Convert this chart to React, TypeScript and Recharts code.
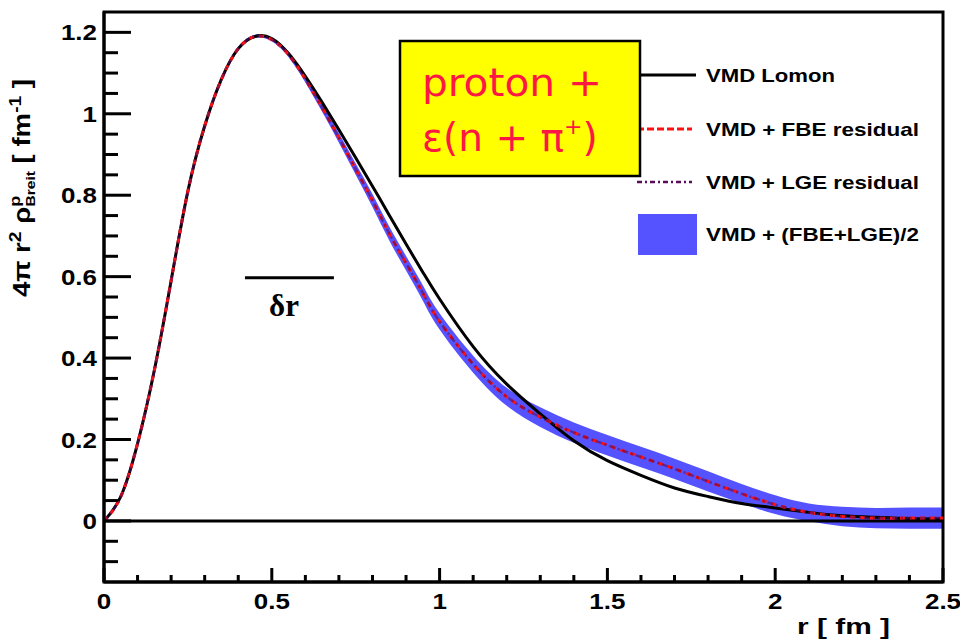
import React from 'react';
import { ComposedChart, Line, Area, XAxis, YAxis, ReferenceLine, ReferenceArea } from 'recharts';

// r in fm
const rValues = [
  0, 0.05, 0.1, 0.15, 0.2, 0.25, 0.3, 0.35, 0.4, 0.45, 0.5, 0.55, 0.6, 0.65, 0.7, 0.75, 0.8, 0.85,
  0.9, 0.95, 1.0, 1.1, 1.2, 1.3, 1.4, 1.5, 1.6, 1.7, 1.8, 1.9, 2.0, 2.1, 2.2, 2.3, 2.4, 2.5,
];
// 4 pi r^2 rho, fm^-1
const lomon = [
  0, 0.06, 0.19, 0.37, 0.59, 0.81, 0.97, 1.085, 1.16, 1.19, 1.185, 1.148, 1.092, 1.028, 0.961, 0.892, 0.822, 0.751,
  0.68, 0.611, 0.545, 0.428, 0.336, 0.263, 0.197, 0.148, 0.112, 0.081, 0.06, 0.043, 0.032, 0.021, 0.013, 0.009, 0.006, 0.005,
];
const fbeResidual = [
  0, 0.06, 0.19, 0.37, 0.59, 0.81, 0.97, 1.085, 1.16, 1.19, 1.182, 1.145, 1.085, 1.015, 0.941, 0.864, 0.787, 0.706,
  0.633, 0.56, 0.49, 0.385, 0.305, 0.255, 0.217, 0.186, 0.157, 0.128, 0.097, 0.067, 0.04, 0.021, 0.011, 0.007, 0.007, 0.007,
];
const lgeResidual = [
  0, 0.06, 0.19, 0.37, 0.59, 0.81, 0.97, 1.085, 1.16, 1.19, 1.182, 1.145, 1.085, 1.015, 0.941, 0.864, 0.787, 0.706,
  0.633, 0.56, 0.49, 0.385, 0.305, 0.255, 0.217, 0.186, 0.157, 0.128, 0.097, 0.067, 0.04, 0.021, 0.011, 0.007, 0.007, 0.007,
];
const bandHalfWidth = [
  0.003, 0.003, 0.003, 0.003, 0.003, 0.003, 0.003, 0.003, 0.004, 0.004, 0.004, 0.006, 0.008, 0.01, 0.012, 0.014, 0.016, 0.017,
  0.018, 0.019, 0.02, 0.021, 0.022, 0.024, 0.025, 0.025, 0.025, 0.025, 0.025, 0.024, 0.023, 0.022, 0.024, 0.025, 0.026, 0.026,
];

const xTicks = [
  0, 0.1, 0.2, 0.3, 0.4, 0.5, 0.6, 0.7, 0.8, 0.9, 1, 1.1, 1.2, 1.3, 1.4, 1.5, 1.6, 1.7, 1.8, 1.9, 2, 2.1, 2.2, 2.3, 2.4, 2.5,
];
const yTicks = [
  -0.1, -0.05, 0, 0.05, 0.1, 0.15, 0.2, 0.25, 0.3, 0.35, 0.4, 0.45, 0.5, 0.55, 0.6, 0.65, 0.7, 0.75, 0.8, 0.85, 0.9,
  0.95, 1, 1.05, 1.1, 1.15, 1.2,
];
const legendLabels = ['VMD Lomon', 'VMD + FBE residual', 'VMD + LGE residual', 'VMD + (FBE+LGE)/2'];
const deltaR = [0.42, 0.685];
const deltaRLevel = 0.597;

const chartData = rValues.map((r, i) => {
  const mid = (fbeResidual[i] + lgeResidual[i]) / 2;
  return {
    r,
    lomon: lomon[i],
    fbe: fbeResidual[i],
    lge: lgeResidual[i],
    band: [mid - bandHalfWidth[i], mid + bandHalfWidth[i]],
  };
});

const FONT = "'Liberation Sans', Arial, Helvetica, sans-serif";
const BLUE = '#5552ff';

const isMajor = (v: number, step: number) => Math.abs(v / step - Math.round(v / step)) < 1e-6;
const fmt = (v: number) => (Math.abs(v) < 1e-9 ? '0' : String(parseFloat(v.toFixed(2))));

// ticks point into the frame, major ones twice as long
function XTick(props: any) {
  const x = Number(props.x);
  const y = Number(props.y);
  const v = props.payload.value;
  const major = isMajor(v, 0.5);
  return (
    <g>
      <path d={`M${x},${y}V${y - (major ? 14 : 7)}`} stroke="#000" strokeWidth={3} fill="none" />
      {major && (
        <text
          transform={`translate(${x},${y + 27}) scale(1.18,1)`}
          textAnchor="middle"
          fontFamily={FONT}
          fontWeight="bold"
          fontSize={22}
          fill="#000"
        >
          {fmt(v)}
        </text>
      )}
    </g>
  );
}

function YTick(props: any) {
  const x = Number(props.x);
  const y = Number(props.y);
  const v = props.payload.value;
  const major = isMajor(v, 0.2);
  return (
    <g>
      <path d={`M${x},${y}H${x + (major ? 27 : 14)}`} stroke="#000" strokeWidth={3} fill="none" />
      {major && (
        <text
          transform={`translate(${x - 7},${y + 8}) scale(1.18,1)`}
          textAnchor="end"
          fontFamily={FONT}
          fontWeight="bold"
          fontSize={22}
          fill="#000"
        >
          {fmt(v)}
        </text>
      )}
    </g>
  );
}

export default function App() {
  return (
    <div style={{ position: 'absolute', left: 0, top: 0, width: 960, height: 641, background: '#fff' }}>
      <ComposedChart
        width={960}
        height={641}
        data={chartData}
        margin={{ top: 12, right: 17, bottom: 19, left: 44 }}
      >
        <XAxis
          dataKey="r"
          type="number"
          domain={[0, 2.5]}
          ticks={xTicks}
          interval={0}
          height={40}
          tickSize={0}
          tickMargin={0}
          tickLine={false}
          axisLine={{ stroke: '#000', strokeWidth: 3 }}
          tick={<XTick />}
        />
        <YAxis
          type="number"
          domain={[-0.15, 1.25]}
          ticks={yTicks}
          interval={0}
          width={60}
          tickSize={0}
          tickMargin={0}
          tickLine={false}
          axisLine={{ stroke: '#000', strokeWidth: 3 }}
          tick={<YTick />}
          allowDataOverflow
        />
        <Area
          type="natural"
          dataKey="band"
          stroke="none"
          fill={BLUE}
          fillOpacity={1}
          isAnimationActive={false}
        />
        <ReferenceLine y={0} stroke="#000" strokeWidth={3} />
        <Line type="natural" dataKey="lomon" stroke="#000" strokeWidth={3} dot={false} isAnimationActive={false} />
        <Line
          type="natural"
          dataKey="fbe"
          stroke="#ff1010"
          strokeWidth={3}
          strokeDasharray="5 5"
          dot={false}
          isAnimationActive={false}
        />
        <Line
          type="natural"
          dataKey="lge"
          stroke="#5a0c5a"
          strokeWidth={2.5}
          strokeDasharray="6 3 2 3"
          strokeOpacity={0.6}
          dot={false}
          isAnimationActive={false}
        />
        <ReferenceLine
          segment={[
            { x: deltaR[0], y: deltaRLevel },
            { x: deltaR[1], y: deltaRLevel },
          ]}
          stroke="#000"
          strokeWidth={3}
        />
        <ReferenceArea x1={0} x2={2.5} y1={-0.15} y2={1.25} fill="none" fillOpacity={0} stroke="#000" strokeWidth={3} />
      </ComposedChart>

      <svg
        width={960}
        height={641}
        style={{ position: 'absolute', left: 0, top: 0, pointerEvents: 'none' }}
      >
        {/* legend */}
        <line x1={637} x2={696} y1={75} y2={75} stroke="#000" strokeWidth={3} />
        <line x1={637} x2={692} y1={129} y2={129} stroke="#ff1010" strokeWidth={3} strokeDasharray="7 3" />
        <line x1={637} x2={692} y1={182} y2={182} stroke="#5a0c5a" strokeWidth={2.5} strokeDasharray="5 3 2 3" />
        <rect x={638} y={214} width={59} height={41} fill={BLUE} />
        {legendLabels.map((t, i) => (
          <text
            key={t}
            x={706}
            y={[82, 136, 189, 241][i]}
            textLength={[129, 213, 213, 213][i]}
            lengthAdjust="spacingAndGlyphs"
            fontFamily={FONT}
            fontWeight="bold"
            fontSize={19}
            fill="#000"
          >
            {t}
          </text>
        ))}

        {/* annotation box */}
        <rect x={400} y={41} width={240} height={135} fill="#ffff00" stroke="#000" strokeWidth={2.5} />
        <text
          x={422}
          y={96}
          textLength={180}
          lengthAdjust="spacingAndGlyphs"
          fontFamily="'Comic Sans MS', 'DejaVu Sans', sans-serif"
          fontSize={39}
          fill="#ff1744"
        >
          proton +
        </text>
        <text x={422} y={151} fontFamily="'Comic Sans MS', 'DejaVu Sans', sans-serif" fontSize={39} fill="#ff1744">
          ε(n + π<tspan dy={-17} fontSize={22}>+</tspan>
          <tspan dy={17}>)</tspan>
        </text>

        {/* delta r label */}
        <text x={284} y={316} textAnchor="middle" fontFamily="'Liberation Serif', serif" fontWeight="bold" fontSize={31} fill="#000">
          δr
        </text>

        {/* axis titles */}
        <text
          x={797}
          y={634}
          textLength={93}
          lengthAdjust="spacingAndGlyphs"
          fontFamily={FONT}
          fontWeight="bold"
          fontSize={22}
          fill="#000"
        >
          r  [ fm ]
        </text>
        <text
          transform="translate(30, 188) rotate(-90) scale(1.2, 1)"
          textAnchor="middle"
          fontFamily={FONT}
          fontWeight="bold"
          fontSize={23}
          fill="#000"
        >
          4π r<tspan dy={-9} fontSize={16}>2</tspan>
          <tspan dy={9}> ρ</tspan>
          <tspan dy={-10} fontSize={15}>p</tspan>
          <tspan dy={15} dx={-9} fontSize={13}>Breit</tspan>
          <tspan dy={-5}>   [ fm</tspan>
          <tspan dy={-9} fontSize={16}>-1</tspan>
          <tspan dy={9}>  ]</tspan>
        </text>
      </svg>
    </div>
  );
}
